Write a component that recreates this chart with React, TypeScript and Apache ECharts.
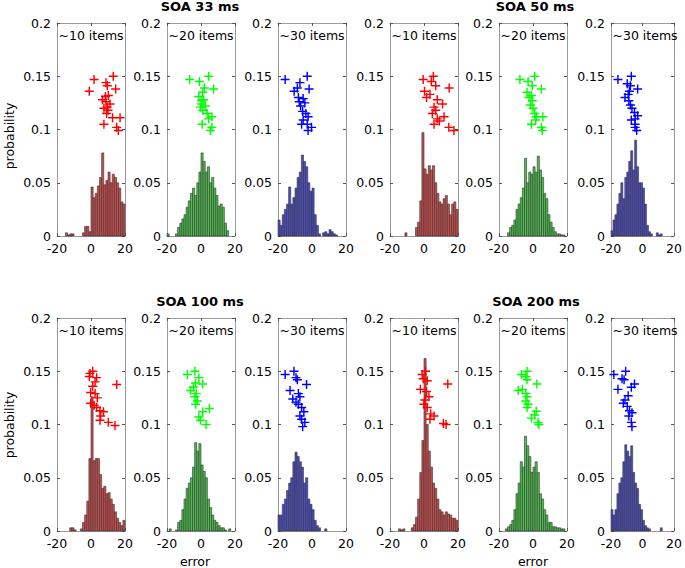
import React, { useEffect, useRef } from "react";
import * as echarts from "echarts";

// ---------- data ----------
const BIN_CENTERS = [
  -19.375, -18.125, -16.875, -15.625, -14.375, -13.125, -11.875, -10.625,
  -9.375, -8.125, -6.875, -5.625, -4.375, -3.125, -1.875, -0.625,
  0.625, 1.875, 3.125, 4.375, 5.625, 6.875, 8.125, 9.375,
  10.625, 11.875, 13.125, 14.375, 15.625, 16.875, 18.125, 19.375,
];
const BIN_WIDTH = 1.25;

const SOA_TITLES = ["SOA 33 ms", "SOA 50 ms", "SOA 100 ms", "SOA 200 ms"];
const SET_LABELS = ["~10 items", "~20 items", "~30 items"];
const X_LABEL = "error";
const Y_LABEL = "probability";

// histograms (probability per bin)
const H33_10 = [0,0,0,0,0.003,0.001,0.002,0.002,0,0,0,0,0.003,0.009,0.009,0.004,0.046,0.036,0.04,0.047,0.055,0.078,0.048,0.052,0.06,0.05,0.058,0.055,0.05,0.045,0.032,0.03];
const H33_20 = [0.002,0,0,0,0.002,0.008,0.012,0.016,0.02,0.027,0.033,0.04,0.045,0.038,0.05,0.06,0.078,0.07,0.06,0.065,0.05,0.055,0.045,0.038,0.028,0.03,0.027,0.012,0.005,0,0,0];
const H33_30 = [0.015,0.01,0.02,0.025,0.03,0.046,0.03,0.036,0.045,0.055,0.06,0.076,0.07,0.065,0.05,0.042,0.045,0.02,0.01,0.002,0,0.003,0.004,0.002,0.006,0.004,0.002,0.001,0,0,0,0];
const H50_10 = [0,0,0,0,0,0,0,0.003,0,0,0,0,0.008,0.013,0.033,0.097,0.063,0.058,0.066,0.062,0.066,0.05,0.04,0.032,0.03,0.035,0.038,0.03,0.02,0.03,0.032,0.025];
const H50_20 = [0,0,0,0,0.003,0.008,0.01,0.015,0.025,0.03,0.036,0.045,0.073,0.05,0.06,0.058,0.065,0.06,0.075,0.062,0.055,0.04,0.035,0.02,0.013,0.008,0.004,0.002,0.002,0.001,0.001,0];
const H50_30 = [0.005,0.015,0.02,0.03,0.04,0.05,0.035,0.055,0.06,0.07,0.08,0.062,0.09,0.065,0.05,0.05,0.045,0.03,0.01,0.004,0.002,0,0,0.003,0.001,0.002,0,0,0,0,0,0];
const H100_10 = [0,0,0,0,0,0,0.003,0.003,0.001,0,0,0.002,0.008,0.015,0.028,0.068,0.126,0.066,0.068,0.068,0.053,0.04,0.042,0.035,0.036,0.03,0.025,0.018,0.012,0.008,0.005,0.01];
const H100_20 = [0,0.002,0,0,0.001,0.008,0.01,0.02,0.03,0.04,0.045,0.05,0.06,0.083,0.075,0.082,0.062,0.056,0.05,0.03,0.022,0.015,0.01,0.008,0.005,0.003,0.003,0.001,0,0.002,0,0];
const H100_30 = [0.015,0.015,0.025,0.03,0.038,0.045,0.05,0.065,0.074,0.07,0.065,0.06,0.045,0.05,0.03,0.025,0.02,0.01,0.005,0.003,0,0,0.002,0,0,0,0,0,0,0,0,0];
const H200_10 = [0,0,0,0,0.002,0.001,0.002,0,0,0,0.003,0.006,0.013,0.03,0.055,0.085,0.162,0.1,0.075,0.06,0.045,0.04,0.03,0.02,0.018,0.015,0.018,0.016,0.015,0.012,0.012,0.01];
const H200_20 = [0,0,0,0.002,0.004,0.006,0.01,0.02,0.035,0.045,0.065,0.06,0.089,0.08,0.07,0.055,0.06,0.065,0.055,0.035,0.03,0.02,0.015,0.008,0.008,0.004,0.004,0.003,0.003,0.002,0.002,0];
const H200_30 = [0.02,0.015,0.02,0.035,0.045,0.05,0.065,0.081,0.075,0.07,0.08,0.055,0.045,0.04,0.025,0.02,0.01,0.005,0.003,0.002,0,0,0,0,0,0.003,0,0,0,0,0,0];

// individual "+" markers [error, y]
const P33_10 = [[1.8,0.147],[13.1,0.150],[-1,0.136],[8.8,0.144],[9.6,0.141],[14.5,0.138],[6.7,0.128],[10.2,0.132],[8.8,0.126],[11.2,0.124],[7.6,0.120],[9.2,0.115],[12.7,0.111],[17.1,0.111],[7.6,0.105],[15.1,0.102],[16.1,0.099],[9.6,0.121],[10,0.118],[8.5,0.131]];
const P33_20 = [[-6.7,0.147],[4.5,0.150],[-0.9,0.145],[2.0,0.139],[7.4,0.138],[1.0,0.135],[-1.3,0.131],[1.6,0.128],[0.3,0.124],[2.6,0.122],[1.0,0.118],[3.6,0.115],[6.4,0.112],[4.5,0.110],[0.7,0.105],[6.4,0.102],[5.5,0.099],[-0.3,0.121],[0.3,0.127]];
const P33_30 = [[-15.8,0.147],[-2.8,0.150],[-7.1,0.144],[-1.7,0.138],[-10.5,0.136],[-8.6,0.139],[-5.2,0.129],[-7.5,0.126],[-6.7,0.122],[-5.5,0.117],[-3.6,0.115],[-2.3,0.112],[-5.2,0.109],[-6.1,0.105],[-2.8,0.105],[-0.3,0.102],[-2.3,0.099],[-8.0,0.130],[-4.2,0.125]];
const P50_10 = [[-0.5,0.147],[5.5,0.150],[4.3,0.145],[6.9,0.141],[0.3,0.136],[14.8,0.139],[1.5,0.130],[7.8,0.128],[5.9,0.121],[6.9,0.118],[10.9,0.124],[4.9,0.115],[11.8,0.112],[7.8,0.110],[5.9,0.105],[14.6,0.102],[17.6,0.099],[3.5,0.133],[9,0.108]];
const P50_20 = [[-7.7,0.147],[1.0,0.150],[-2.9,0.145],[-0.4,0.141],[4.9,0.138],[-3.5,0.135],[-2.3,0.130],[-0.4,0.127],[-1.5,0.123],[0.0,0.120],[1.0,0.115],[2.0,0.112],[5.8,0.112],[1.6,0.109],[-0.9,0.105],[4.9,0.102],[5.5,0.099],[-0.9,0.132]];
const P50_30 = [[-15.6,0.147],[-7.1,0.150],[-9.7,0.143],[-7.7,0.141],[-3.1,0.138],[-8.3,0.136],[-11.1,0.130],[-8.7,0.127],[-7.7,0.123],[-6.7,0.120],[-5.1,0.116],[-3.1,0.113],[-4.7,0.110],[-7.1,0.109],[-4.7,0.105],[-3.7,0.099],[-4.7,0.102],[-9.1,0.133]];
const P100_10 = [[-0.6,0.148],[1.0,0.150],[3.3,0.144],[-1.0,0.145],[2.4,0.140],[15.1,0.1375],[-0.2,0.130],[2.4,0.129],[3.7,0.125],[-0.2,0.120],[1.8,0.118],[3.3,0.116],[5.3,0.113],[7.3,0.112],[5.7,0.108],[5.3,0.104],[10.2,0.102],[14.1,0.099],[1.0,0.136]];
const P100_20 = [[-8.0,0.147],[-3.6,0.150],[-1.3,0.144],[1.0,0.138],[-3.2,0.139],[-6.1,0.132],[-2.8,0.129],[-3.6,0.126],[-2.2,0.122],[-3.2,0.119],[4.9,0.115],[1.0,0.112],[-1.3,0.107],[-0.3,0.104],[3.0,0.100],[-4.5,0.135]];
const P100_30 = [[-15.8,0.147],[-10.6,0.150],[-9.4,0.144],[-8.6,0.142],[-3.2,0.1375],[-12.9,0.132],[-8.0,0.129],[-11.3,0.124],[-7.1,0.126],[-8.0,0.119],[-6.1,0.116],[-4.8,0.112],[-7.1,0.108],[-6.1,0.105],[-4.2,0.102],[-5.5,0.098],[-9.4,0.121]];
const P200_10 = [[-1.1,0.147],[0.9,0.150],[-0.5,0.143],[1.9,0.141],[14,0.138],[-2.1,0.133],[1.5,0.131],[2.9,0.126],[-0.1,0.119],[1.9,0.116],[3.9,0.110],[3.5,0.105],[11.4,0.101],[13,0.100],[5.9,0.108],[0.5,0.123]];
const P200_20 = [[-6.8,0.147],[-3.5,0.150],[-4.2,0.145],[-3.5,0.142],[2.3,0.138],[-8.7,0.132],[-4.2,0.129],[-3.5,0.126],[-4.2,0.122],[-2.9,0.119],[-3.5,0.116],[1.9,0.1125],[1.0,0.109],[-0.9,0.106],[2.9,0.102],[3.5,0.100],[-6.2,0.133]];
const P200_30 = [[-18.2,0.147],[-10.7,0.150],[-13.0,0.143],[-11.7,0.142],[-5.1,0.138],[-7.1,0.135],[-15.6,0.133],[-9.1,0.127],[-11.1,0.123],[-12.2,0.120],[-9.7,0.117],[-8.3,0.113],[-6.7,0.111],[-8.7,0.108],[-7.1,0.102],[-6.7,0.098]];

const HISTS = [H33_10, H33_20, H33_30, H50_10, H50_20, H50_30, H100_10, H100_20, H100_30, H200_10, H200_20, H200_30];
const POINTS = [P33_10, P33_20, P33_30, P50_10, P50_20, P50_30, P100_10, P100_20, P100_30, P200_10, P200_20, P200_30];

// ---------- styling / layout ----------
const MARKER_COLORS = ["#ff0000", "#00ff00", "#0000ff"];
const BAR_COLORS = ["#cc4c4c", "#4cbf4c", "#4c4cc4"];
const LEFTS = [57, 167, 278, 390, 499, 611];
const TOPS = [23, 318];
const W = 68;
const H = 213;
const FONT = "DejaVu Sans";
const PLUS = "path://M4.2,0H5.8V4.2H10V5.8H5.8V10H4.2V5.8H0V4.2H4.2Z";

export default function App() {
  const ref = useRef<HTMLDivElement>(null);
  useEffect(() => {
    document.body.style.margin = "0";
    const chart = echarts.init(ref.current!, null, { renderer: "svg" });
    const grids: any[] = [];
    const xAxes: any[] = [];
    const yAxes: any[] = [];
    const series: any[] = [];
    const graphic: any[] = [];
    const axisLine = { show: true, onZero: false, lineStyle: { color: "#9a9a9a", width: 1 } };
    const tick = { show: true, inside: true, length: 3, lineStyle: { color: "#555", width: 1 } };
    for (let k = 0; k < 12; k++) {
      const row = Math.floor(k / 6);
      const col = k % 6;
      const set = col % 3;
      grids.push({ left: LEFTS[col], top: TOPS[row], width: W, height: H });
      const xBase = {
        gridIndex: k, type: "value", min: -20, max: 20, interval: 20,
        axisLine, axisTick: tick, splitLine: { show: false },
      };
      xAxes.push({ ...xBase, position: "bottom",
        axisLabel: { show: true, fontSize: 12.5, fontFamily: FONT, color: "#000", margin: 6 } });
      xAxes.push({ ...xBase, position: "top", axisLabel: { show: false } });
      const yBase = {
        gridIndex: k, type: "value", min: 0, max: 0.2, interval: 0.05,
        axisLine, axisTick: tick, splitLine: { show: false },
      };
      yAxes.push({ ...yBase, position: "left",
        axisLabel: { show: true, fontSize: 12.5, fontFamily: FONT, color: "#000", margin: 6 } });
      yAxes.push({ ...yBase, position: "right", axisLabel: { show: false } });

      const fill = BAR_COLORS[set];
      series.push({
        type: "custom",
        xAxisIndex: 2 * k,
        yAxisIndex: 2 * k,
        encode: { x: 0, y: 1 },
        data: BIN_CENTERS.map((c, i) => [c, HISTS[k][i]]),
        z: 2,
        renderItem: (params: any, api: any) => {
          const c = api.value(0);
          const v = api.value(1);
          if (!v) return null;
          const p0 = api.coord([c - BIN_WIDTH / 2, v]);
          const p1 = api.coord([c + BIN_WIDTH / 2, 0]);
          return {
            type: "rect",
            shape: { x: p0[0], y: p0[1], width: p1[0] - p0[0], height: p1[1] - p0[1] },
            style: { fill, stroke: "#333333", lineWidth: 0.6 },
          };
        },
      });
      series.push({
        type: "scatter",
        xAxisIndex: 2 * k,
        yAxisIndex: 2 * k,
        data: POINTS[k],
        symbol: PLUS,
        symbolSize: 9,
        itemStyle: { color: MARKER_COLORS[set], opacity: 1 },
        z: 5,
      });
      graphic.push({
        type: "text",
        x: LEFTS[col] + 1.5,
        y: TOPS[row] + 12.5,
        z: 10,
        style: {
          text: SET_LABELS[set], fontSize: 12.5, fontFamily: FONT, fill: "#000",
          align: "left", verticalAlign: "middle", textAlign: "left", textVerticalAlign: "middle",
        },
      });
    }
    const titlePos = [[200, 6], [535, 6], [200, 301], [536, 301]];
    SOA_TITLES.forEach((t, i) => {
      graphic.push({
        type: "text", x: titlePos[i][0], y: titlePos[i][1], z: 10,
        style: {
          text: t, fontSize: 13, fontWeight: "bold", fontFamily: FONT, fill: "#000",
          align: "center", verticalAlign: "middle", textAlign: "center", textVerticalAlign: "middle",
        },
      });
    });
    [[9, 136], [9, 425]].forEach(([x, y]) => {
      graphic.push({
        type: "text", x, y, rotation: Math.PI / 2, z: 10,
        style: {
          text: Y_LABEL, fontSize: 12.5, fontFamily: FONT, fill: "#000",
          align: "center", verticalAlign: "middle", textAlign: "center", textVerticalAlign: "middle",
        },
      });
    });
    [[195, 561], [533, 561]].forEach(([x, y]) => {
      graphic.push({
        type: "text", x, y, z: 10,
        style: {
          text: X_LABEL, fontSize: 12.5, fontFamily: FONT, fill: "#000",
          align: "center", verticalAlign: "middle", textAlign: "center", textVerticalAlign: "middle",
        },
      });
    });

    chart.setOption({
      animation: false,
      backgroundColor: "#ffffff",
      grid: grids,
      xAxis: xAxes,
      yAxis: yAxes,
      series,
      graphic,
    });
    return () => chart.dispose();
  }, []);
  return <div ref={ref} style={{ width: 685, height: 568 }} />;
}
